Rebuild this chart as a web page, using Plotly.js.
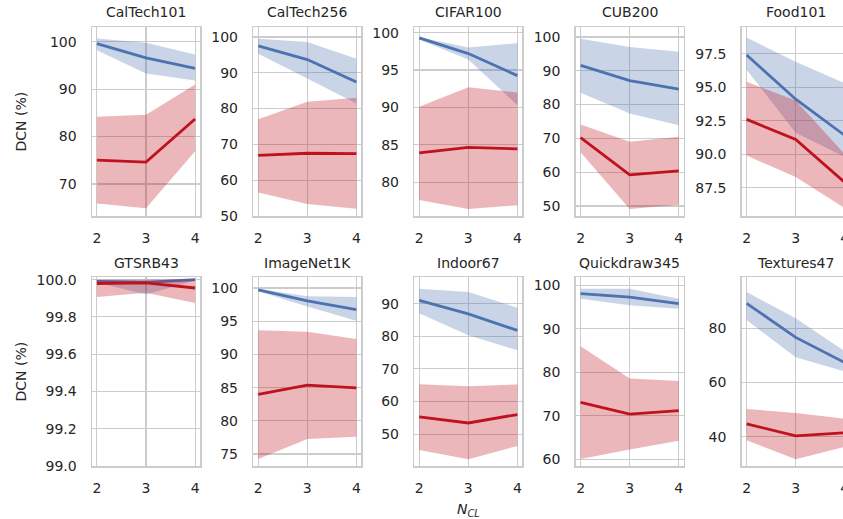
<!DOCTYPE html>
<html>
<head>
<meta charset="utf-8">
<script src="https://cdn.plot.ly/plotly-3.0.1.min.js"></script>
<style>
html,body{margin:0;padding:0;overflow:hidden;background:#fff;width:843px;height:519px;}
#chart{width:860px;height:519px;}
</style>
</head>
<body>
<div id="chart"></div>
<script>
// ---- data ----
const datasets = ["CalTech101","CalTech256","CIFAR100","CUB200","Food101",
                  "GTSRB43","ImageNet1K","Indoor67","Quickdraw345","Textures47"];
const nCL = [2, 3, 4];

const blueMean = [
  [99.6, 96.6, 94.4],
  [97.5, 93.7, 87.4],
  [99.3, 97.2, 94.25],
  [91.6, 87.1, 84.6],
  [97.4, 94.1, 91.4],
  [99.99, 99.985, 100.0],
  [99.7, 98.05, 96.75],
  [91.0, 86.9, 81.8],
  [98.1, 97.3, 95.8],
  [89.1, 76.6, 67.3]
];
const blueLow = [
  [98.2, 93.3, 91.8],
  [95.3, 88.4, 81.4],
  [99.1, 96.4, 90.3],
  [83.5, 77.4, 73.9],
  [96.3, 91.6, 89.8],
  [99.985, 99.92, 99.995],
  [99.5, 97.2, 95.05],
  [87.1, 80.3, 75.7],
  [96.9, 95.4, 94.6],
  [83.0, 69.3, 64.0]
];
const blueHigh = [
  [100.7, 99.8, 97.3],
  [99.5, 98.6, 93.9],
  [99.4, 98.0, 98.6],
  [99.5, 97.0, 95.6],
  [98.7, 96.9, 95.3],
  [100.0, 100.0, 100.0],
  [99.9, 98.75, 98.65],
  [94.6, 93.6, 88.8],
  [99.2, 99.2, 96.9],
  [93.3, 83.6, 71.5]
];
const redMean = [
  [75.05, 74.6, 83.7],
  [66.9, 67.5, 67.4],
  [83.9, 84.65, 84.45],
  [70.2, 59.2, 60.4],
  [92.6, 91.1, 87.9],
  [99.979, 99.982, 99.955],
  [83.97, 85.37, 84.97],
  [55.3, 53.4, 56.0],
  [73.1, 70.4, 71.2],
  [44.8, 40.4, 41.5]
];
const redLow = [
  [65.9, 64.9, 76.9],
  [56.5, 53.3, 52.0],
  [77.6, 76.4, 76.9],
  [65.9, 49.1, 50.4],
  [89.9, 88.3, 85.97],
  [99.907, 99.93, 99.875],
  [74.25, 77.25, 77.6],
  [45.1, 42.3, 46.3],
  [60.1, 62.3, 64.3],
  [38.8, 31.8, 36.4]
];
const redHigh = [
  [84.2, 84.6, 91.0],
  [77.0, 81.9, 83.0],
  [90.1, 92.7, 92.0],
  [74.1, 69.0, 70.5],
  [95.4, 94.0, 90.0],
  [99.996, 99.996, 100.0],
  [93.64, 93.4, 92.3],
  [65.3, 64.7, 65.2],
  [86.0, 78.6, 78.0],
  [50.3, 48.8, 46.7]
];

// axis settings (style)
const yRanges = [
  [63.25, 103.1], [49.95, 102.8], [75.46, 100.76], [47.05, 102.95], [85.39, 99.49],
  [99.0, 100.014], [73.2, 101.65], [40.2, 98.2], [58.5, 101.9], [29.3, 98.8]
];
const yDticks = [10, 10, 5, 10, 2.5, 0.2, 5, 10, 10, 20];
const yFormats = ["", "", "", "", ".1f", ".1f", "", "", "", ""];

// ---- layout geometry ----
const W = 860, H = 519;
const colLeft = [92, 253.3, 414.3, 575.7, 741.7];
const colW = 108;
const rowsPx = [[27, 216], [277, 466]];

const BLUE = "#4c72b0", BLUE_F = "rgba(76,114,176,0.30)";
const RED = "#c0121e", RED_F = "rgba(192,18,30,0.30)";
const TXT = "#262626", GRID = "#cccccc";
const FONT = "DejaVu Sans";

const traces = [];
const layout = {
  width: W, height: H,
  margin: {l: 0, r: 0, t: 0, b: 0},
  paper_bgcolor: "#ffffff", plot_bgcolor: "#ffffff",
  showlegend: false,
  font: {family: FONT, size: 14, color: TXT},
  annotations: []
};

datasets.forEach((name, i) => {
  const r = Math.floor(i / 5), c = i % 5;
  const n = i + 1;
  const xa = n === 1 ? "x" : "x" + n;
  const ya = n === 1 ? "y" : "y" + n;
  const xkey = n === 1 ? "xaxis" : "xaxis" + n;
  const ykey = n === 1 ? "yaxis" : "yaxis" + n;
  const x0 = colLeft[c] / W, x1 = (colLeft[c] + colW) / W;
  const y0 = 1 - rowsPx[r][1] / H, y1 = 1 - rowsPx[r][0] / H;

  const polyX = nCL.concat(nCL.slice().reverse());
  // blue band + line
  traces.push({
    x: polyX, y: blueHigh[i].concat(blueLow[i].slice().reverse()),
    xaxis: xa, yaxis: ya, type: "scatter", mode: "lines",
    fill: "toself", fillcolor: BLUE_F, line: {width: 0, color: "rgba(0,0,0,0)"},
    hoverinfo: "skip"
  });
  traces.push({
    x: nCL, y: blueMean[i], xaxis: xa, yaxis: ya, type: "scatter", mode: "lines",
    line: {color: BLUE, width: 2.8}
  });
  // red band + line
  traces.push({
    x: polyX, y: redHigh[i].concat(redLow[i].slice().reverse()),
    xaxis: xa, yaxis: ya, type: "scatter", mode: "lines",
    fill: "toself", fillcolor: RED_F, line: {width: 0, color: "rgba(0,0,0,0)"},
    hoverinfo: "skip"
  });
  traces.push({
    x: nCL, y: redMean[i], xaxis: xa, yaxis: ya, type: "scatter", mode: "lines",
    line: {color: RED, width: 2.8}
  });

  layout[xkey] = {
    domain: [x0, x1], anchor: ya, range: [1.9, 4.1],
    tickvals: nCL, ticktext: nCL.map(String),
    showgrid: true, gridcolor: GRID, gridwidth: 1.1,
    showline: true, mirror: true, linecolor: GRID, linewidth: 1.5,
    zeroline: false, ticks: "", ticklabelstandoff: 9,
    tickfont: {family: FONT, size: 14, color: TXT}
  };
  layout[ykey] = {
    domain: [y0, y1], anchor: xa, range: yRanges[i],
    tick0: 0, dtick: yDticks[i], tickformat: yFormats[i],
    showgrid: true, gridcolor: GRID, gridwidth: 1.1,
    showline: true, mirror: true, linecolor: GRID, linewidth: 1.5,
    zeroline: false, ticks: "", ticklabelstandoff: 11,
    tickfont: {family: FONT, size: 14, color: TXT}
  };

  // subplot title
  layout.annotations.push({
    text: name, xref: "paper", yref: "paper",
    x: (x0 + x1) / 2, y: 1 - (rowsPx[r][0] - 14.5) / H,
    xanchor: "center", yanchor: "middle", showarrow: false,
    font: {family: FONT, size: 14, color: TXT}
  });
  if (c === 0) {
    layout.annotations.push({
      text: "DCN (%)", xref: "paper", yref: "paper",
      x: 20 / W, y: 1 - ((rowsPx[r][0] + rowsPx[r][1]) / 2) / H,
      xanchor: "center", yanchor: "middle", textangle: -90, showarrow: false,
      font: {family: FONT, size: 14, color: TXT}
    });
  }
});

layout.annotations.push({
  text: "<i>N</i><sub><i>CL</i></sub>", xref: "paper", yref: "paper",
  x: (colLeft[2] + colW / 2) / W, y: 1 - 510 / H,
  xanchor: "center", yanchor: "middle", showarrow: false,
  font: {family: FONT, size: 14, color: TXT}
});

Plotly.newPlot("chart", traces, layout, {displayModeBar: false, staticPlot: true});
</script>
</body>
</html>
